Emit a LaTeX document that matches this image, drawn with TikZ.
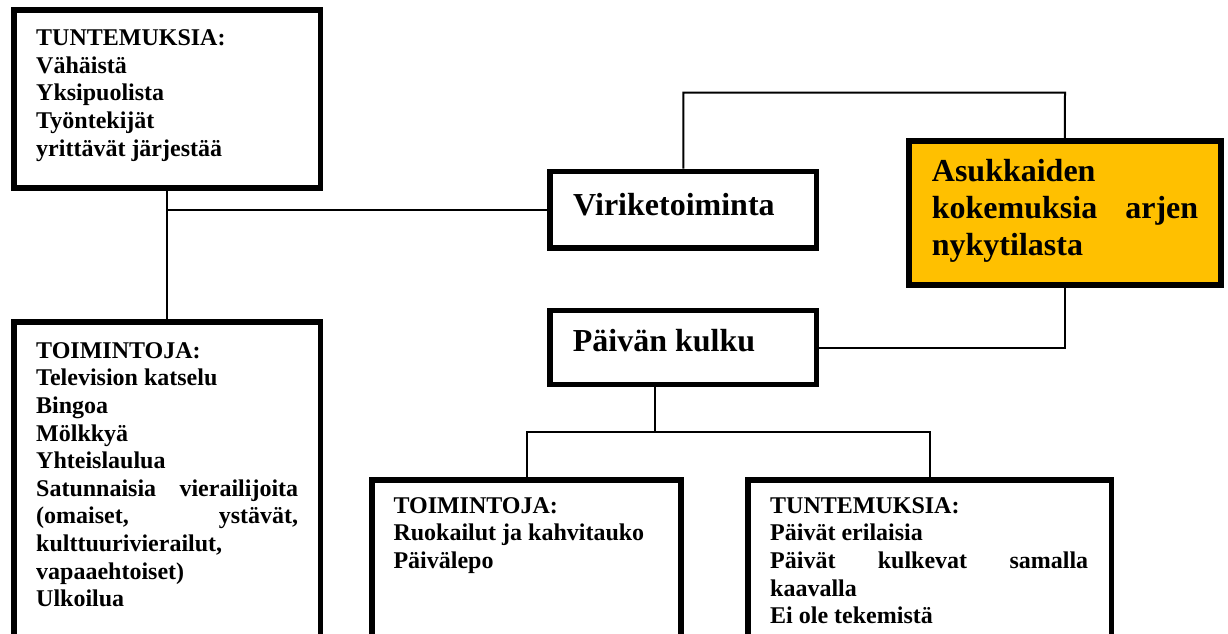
\documentclass[tikz,border=0pt]{standalone}
\usepackage{fontspec}
\setmainfont{Liberation Serif}
\definecolor{gold}{RGB}{255,192,0}
\begin{document}
\begin{tikzpicture}[x=1pt,y=-1pt,
  box/.style={draw, line width=5.5pt, inner sep=0pt, anchor=north west, rectangle, fill=white},
  conn/.style={draw, line width=2pt},
  txt/.style={inner sep=0pt, anchor=base west, align=flush left, font=\bfseries\fontsize{24}{27.6}\selectfont},
  bigtxt/.style={inner sep=0pt, anchor=base west, align=flush left, font=\bfseries\fontsize{32}{36.8}\selectfont}]
\useasboundingbox (0,0) rectangle (1228,634);
\clip (0,0) rectangle (1228,634);
% boxes (positioned by their outer top-left corner)
\node[box, minimum width=306.8pt, minimum height=177.9pt] (A) at (11,7.3) {};
\node[box, minimum width=306.8pt, minimum height=340pt] (B) at (11,319.3) {};
\node[box, minimum width=266.5pt, minimum height=76.5pt] (V) at (547.3,168.7) {};
\node[box, minimum width=266.5pt, minimum height=74.1pt] (P) at (547.3,307.7) {};
\node[box, fill=gold, minimum width=312pt, minimum height=144pt] (O) at (906,138.3) {};
\node[box, minimum width=309pt, minimum height=200pt] (M) at (369.3,477.3) {};
\node[box, minimum width=363.5pt, minimum height=200pt] (R) at (745,477.3) {};
% connectors
\coordinate (vtop) at (1065,92.7);
\coordinate (pj) at (655,432.3);
\draw[conn] (A.south) -- (B.north);
\draw[conn] (V.west) -- (V.west -| A.south);
\draw[conn] (V.north) |- (vtop) -- (O.north);
\draw[conn] (O.south) |- (P.east);
\draw[conn] ([xshift=-28.3pt]P.south) -- (pj);
\draw[conn] (M.north) |- (pj) -| (R.north);
% texts
\node[txt, text width=262pt] (At) at (36,45.7) {TUNTEMUKSIA:\\ Vähäistä\\ Yksipuolista\\ Työntekijät\\ yrittävät järjestää};
\node[txt, text width=262pt] (Bt) at (36,358.3) {TOIMINTOJA:\\ Television katselu\\ Bingoa\\ Mölkkyä\\ Yhteislaulua\\ Satunnaisia\hfill vierailijoita\\ (omaiset,\hfill ystävät,\\ kulttuurivierailut,\\ vapaaehtoiset)\\ Ulkoilua};
\node[bigtxt] (Vt) at (573,215) {Viriketoiminta};
\node[bigtxt] (Pt) at (572.7,351.7) {Päivän kulku};
\node[bigtxt, text width=266.3pt] (Ot) at (931.7,181.7) {Asukkaiden\\ kokemuksia\hfill arjen\\ nykytilasta};
\node[txt, text width=265pt] (Mt) at (393.3,513.3) {TOIMINTOJA:\\ Ruokailut ja kahvitauko\\ Päivälepo};
\node[txt, text width=318pt] (Rt) at (770,513.3) {TUNTEMUKSIA:\\ Päivät erilaisia\\ Päivät\hfill kulkevat\hfill samalla\\ kaavalla\\ Ei ole tekemistä};
\end{tikzpicture}
\end{document}
